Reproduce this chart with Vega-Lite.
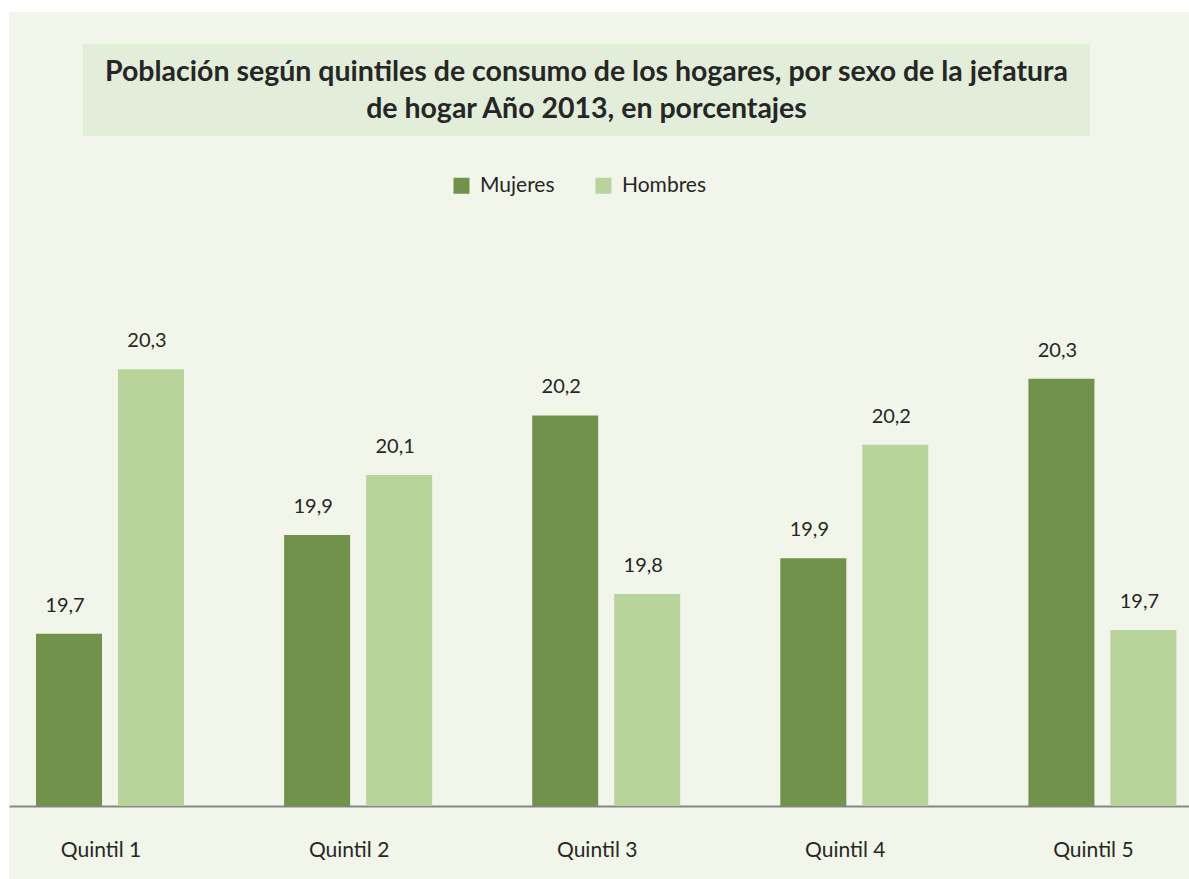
{
  "$schema": "https://vega.github.io/schema/vega-lite/v6.json",
  "background": "#ffffff",
  "padding": {"left": 9, "top": 12, "right": 0, "bottom": 0},
  "autosize": {"type": "pad"},
  "spacing": 0,
  "config": {
    "locale": {"number": {"decimal": ",", "thousands": ".", "grouping": [3], "currency": ["", " €"]}},
    "view": {"stroke": null},
    "font": "Lato",
    "concat": {"spacing": 0}
  },
  "vconcat": [
    {
      "width": 1180,
      "height": 32,
      "data": {"values": [{}]},
      "mark": {"type": "text"},
      "encoding": {"text": {"value": ""}},
      "view": {"fill": "#f2f6ea", "stroke": null}
    },
    {
      "spacing": 0,
      "hconcat": [
        {
          "width": 74,
          "height": 92,
          "data": {"values": [{}]},
          "mark": {"type": "text"},
          "encoding": {"text": {"value": ""}},
          "view": {"fill": "#f2f6ea", "stroke": null}
        },
        {
          "width": 1007,
          "height": 92,
          "data": {"values": [{}]},
          "mark": {"type": "text", "fontSize": 28.5, "fontWeight": "bold", "lineHeight": 37, "dy": -18, "color": "#262626", "align": "center", "baseline": "middle", "font": "Lato"},
          "encoding": {"text": {"value": ["Población según quintiles de consumo de los hogares, por sexo de la jefatura", "de hogar Año 2013, en porcentajes"]}},
          "view": {"fill": "#e2eeda", "stroke": null}
        },
        {
          "width": 99,
          "height": 92,
          "data": {"values": [{}]},
          "mark": {"type": "text"},
          "encoding": {"text": {"value": ""}},
          "view": {"fill": "#f2f6ea", "stroke": null}
        }
      ]
    },
    {
      "width": 1180,
      "height": 743,
      "view": {"fill": "#f2f6ea", "stroke": null},
      "data": {
        "values": [
          {"quintil": "Quintil 1", "sexo": "Mujeres", "valor": 19.71},
          {"quintil": "Quintil 1", "sexo": "Hombres", "valor": 20.34},
          {"quintil": "Quintil 2", "sexo": "Mujeres", "valor": 19.945},
          {"quintil": "Quintil 2", "sexo": "Hombres", "valor": 20.088},
          {"quintil": "Quintil 3", "sexo": "Mujeres", "valor": 20.23},
          {"quintil": "Quintil 3", "sexo": "Hombres", "valor": 19.805},
          {"quintil": "Quintil 4", "sexo": "Mujeres", "valor": 19.89},
          {"quintil": "Quintil 4", "sexo": "Hombres", "valor": 20.16},
          {"quintil": "Quintil 5", "sexo": "Mujeres", "valor": 20.317},
          {"quintil": "Quintil 5", "sexo": "Hombres", "valor": 19.719}
        ]
      },
      "encoding": {
        "x": {
          "field": "quintil",
          "type": "nominal",
          "sort": null,
          "scale": {"paddingInner": 0.4035, "paddingOuter": 0.0798, "align": 0.682},
          "axis": {
            "title": null,
            "orient": "bottom",
            "offset": -73,
            "domainColor": "#868686",
            "domainWidth": 2,
            "ticks": false,
            "grid": false,
            "labelAngle": 0,
            "labelFont": "Lato",
            "labelFontSize": 21,
            "labelColor": "#262626",
            "labelPadding": 33,
            "labelOffset": -9
          }
        },
        "xOffset": {
          "field": "sexo",
          "type": "nominal",
          "sort": ["Mujeres", "Hombres"],
          "scale": {"paddingInner": 0.195, "paddingOuter": 0}
        },
        "y": {
          "field": "valor",
          "type": "quantitative",
          "scale": {"domain": [19.1262, 20.8952], "zero": false, "nice": false},
          "axis": null
        }
      },
      "layer": [
        {
          "mark": {"type": "bar"},
          "encoding": {
            "y2": {"datum": 19.3},
            "color": {
              "field": "sexo",
              "type": "nominal",
              "sort": ["Mujeres", "Hombres"],
              "scale": {"domain": ["Mujeres", "Hombres"], "range": ["#71924a", "#b8d49b"]},
              "legend": {
                "title": null,
                "orient": "none",
                "legendX": 442,
                "legendY": 163,
                "direction": "horizontal",
                "symbolType": "square",
                "symbolSize": 256,
                "symbolStrokeWidth": 0,
                "symbolOpacity": 1,
                "labelFont": "Lato",
                "labelFontSize": 21,
                "labelColor": "#262626",
                "labelOffset": 8,
                "columnPadding": 38,
                "padding": 0
              }
            }
          }
        },
        {
          "mark": {"type": "text", "dy": -22, "dx": -4, "baseline": "alphabetic", "fontSize": 20, "color": "#262626", "font": "Lato"},
          "encoding": {
            "text": {"field": "valor", "type": "quantitative", "format": ".1f"}
          }
        }
      ]
    }
  ]
}
